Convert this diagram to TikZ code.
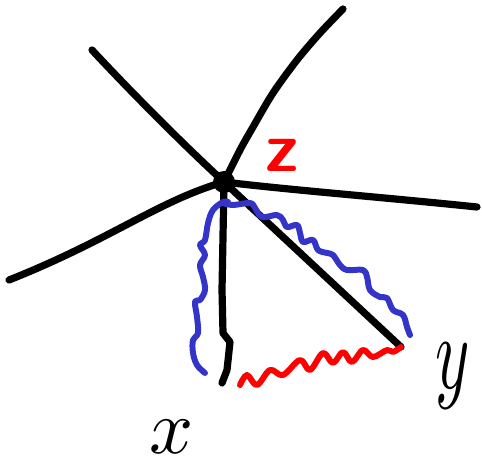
\documentclass[tikz,border=0pt]{standalone}
\usetikzlibrary{positioning}
\definecolor{penblue}{RGB}{52,52,200}
\tikzset{
  edge/.style={line width=4.1pt, line cap=round, line join=round, black},
  wavy/.style={line width=3.4pt, line cap=round, line join=round},
}

\begin{document}
\begin{tikzpicture}[x=0.02cm, y=-0.02cm]
\useasboundingbox (0,0) rectangle (482,465);

% the star at z
\node[circle, fill, inner sep=0pt, minimum size=0.44cm] (z) at (224,182) {};
\coordinate (nw) at (92,50);
\coordinate (nn) at (343,9);
\coordinate (ee) at (477,207);
\coordinate (ww) at (9,280);
\coordinate (xend) at (222,383);
\coordinate (yend) at (401,347);

\draw[edge] (z.center) .. controls (170,132) and (118,78) .. (nw);
\draw[edge] plot[smooth] coordinates {(z.center) (240,150) (253,127) (273,93) (297,60) (320,33) (nn)};
\draw[edge] (z.center) .. controls (290,190) and (380,197) .. (ee);
\draw[edge] (z.center) .. controls (160,200) and (110,240) .. (ww);
\draw[edge] (z.center) -- (222,290) -- (223,333) -- (230,342) -- (227,370) -- (xend);
\draw[edge] (z.center) -- (yend);

% wiggly paths
\draw[wavy, penblue] plot[smooth, tension=0.6] coordinates {(228,202) (223,202) (213,210) (208,223) (205,240) (200,245) (205,255) (200,265) (203,277) (205,290) (200,300) (195,302) (197,317) (198,333) (193,340) (193,353) (197,365) (205,373)};
\draw[wavy, penblue] plot[smooth, tension=0.6] coordinates {(223,203) (233,205) (250,203) (255,208) (262,217) (277,215) (283,220) (287,227) (297,225) (300,233) (303,242) (313,240) (318,250) (327,253) (333,255) (340,265) (347,270) (363,270) (367,277) (370,290) (380,297) (387,298) (393,310) (403,315) (407,327) (410,335)};
\draw[wavy, red] plot[smooth, tension=0.6] coordinates {(240,385) (247,375) (257,385) (270,370) (283,375) (300,360) (310,370) (323,353) (333,363) (343,352) (352,362) (363,350) (373,357) (387,350) (393,352) (yend)};

% labels
\node[red, inner sep=0pt, scale=4, font=\sffamily\bfseries] (zlab) at (282,155) {z};
\node[inner sep=0pt, scale=4.4] (xlab) at (172,437) {$x$};
\node[inner sep=0pt, scale=6, xscale=0.62] (ylab) at (453,376) {$y$};
\end{tikzpicture}
\end{document}
